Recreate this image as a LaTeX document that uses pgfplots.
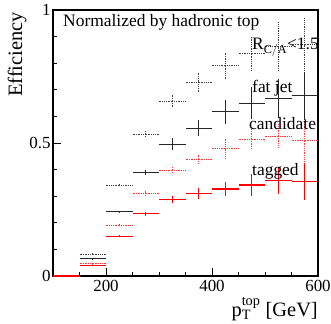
\documentclass[border=0pt]{standalone}
\usepackage{fontspec}
\setmainfont{Liberation Serif}
\usepackage{pgfplots}
\usepackage{pgfplotstable}
\pgfplotsset{compat=1.18}
\pgfplotstableread{
x y ex ey
175 0.082 25 0.003
225 0.341 25 0.006
275 0.533 25 0.013
325 0.658 25 0.026
375 0.728 25 0.036
425 0.790 25 0.050
475 0.835 25 0.063
525 0.862 25 0.094
575 0.870 25 0.100
}\dotblack
\pgfplotstableread{
x y ex ey
175 0.065 25 0.003
225 0.241 25 0.005
275 0.388 25 0.010
325 0.495 25 0.022
375 0.555 25 0.030
425 0.617 25 0.045
475 0.649 25 0.060
525 0.668 25 0.073
575 0.677 25 0.090
}\solblack
\pgfplotstableread{
x y ex ey
175 0.046 25 0.003
225 0.190 25 0.004
275 0.311 25 0.008
325 0.398 25 0.012
375 0.439 25 0.020
425 0.479 25 0.035
475 0.515 25 0.040
525 0.526 25 0.045
575 0.508 25 0.075
}\dotred
\pgfplotstableread{
x y ex ey
125 0.000 25 0.001
175 0.040 25 0.002
225 0.149 25 0.004
275 0.234 25 0.008
325 0.288 25 0.012
375 0.311 25 0.020
425 0.327 25 0.027
475 0.342 25 0.040
525 0.358 25 0.050
575 0.355 25 0.070
}\solred
\begin{document}
\begin{tikzpicture}
\useasboundingbox (-53bp,-48bp) rectangle (278bp,276bp);
\begin{axis}[
  at={(0,0)}, anchor=south west,
  scale only axis, width=265bp, height=266bp,
  xmin=100, xmax=600, ymin=0, ymax=1,
  clip=false,
  xtick={200,400,600}, minor xtick={150,250,300,350,450,500,550},
  ytick={0,0.5,1}, yticklabels={0,0.5,1},
  minor ytick={0.1,0.2,0.3,0.4,0.6,0.7,0.8,0.9},
  tick align=inside, xtick pos=bottom, ytick pos=left,
  major tick length=8bp, minor tick length=4bp,
  axis line style={line width=1.3pt},
  tick style={black, line width=0.9pt},
  /pgf/number format/assume math mode=true,
  ticklabel style={font=\fontsize{17}{17}\selectfont},
  xticklabel style={yshift=-1bp},
  yticklabel style={xshift=1bp},
  error bars/error mark=none,
  axis on top=false,
]
\addplot[draw=none, mark=none,
  error bars/.cd, x dir=both, x explicit, y dir=both, y explicit,
  error bar style={draw=black!75, line width=0.9pt, dash pattern=on 1pt off 0.8pt}]
  table[x=x, y=y, x error=ex, y error=ey]{\dotblack};
\addplot[draw=none, mark=none,
  error bars/.cd, x dir=both, x explicit, y dir=both, y explicit,
  error bar style={draw=black!85, line width=1.1pt, solid}]
  table[x=x, y=y, x error=ex, y error=ey]{\solblack};
\addplot[draw=none, mark=none,
  error bars/.cd, x dir=both, x explicit, y dir=both, y explicit,
  error bar style={draw=red!80, line width=0.9pt, dash pattern=on 1pt off 0.8pt}]
  table[x=x, y=y, x error=ex, y error=ey]{\dotred};
\addplot[draw=none, mark=none,
  error bars/.cd, x dir=both, x explicit, y dir=both, y explicit,
  error bar style={draw=red, line width=1.3pt, solid}]
  table[x=x, y=y, x error=ex, y error=ey]{\solred};
\end{axis}
\begin{scope}[every node/.style={inner sep=0pt, font=\fontsize{17.5}{17.5}\selectfont}]
\node[anchor=base west] at (10bp,249bp) {Normalized by hadronic top};
\node[anchor=base west] at (199bp,226bp) {R$_{\mathrm{C/A}}$<1.5};
\node[anchor=base west] at (199bp,183bp) {fat jet};
\node[anchor=base west] at (196bp,146bp) {candidate};
\node[anchor=base west] at (199bp,100bp) {tagged};
\node[anchor=base east, font=\fontsize{20.5}{20.5}\selectfont] at (265bp,-40bp) {p$_{\mathrm{T}}^{\mathrm{top}}$ [GeV]};
\node[anchor=base east, rotate=90, font=\fontsize{20.5}{20.5}\selectfont] at (-31bp,264bp) {Efficiency};
\end{scope}
\end{tikzpicture}
\end{document}
